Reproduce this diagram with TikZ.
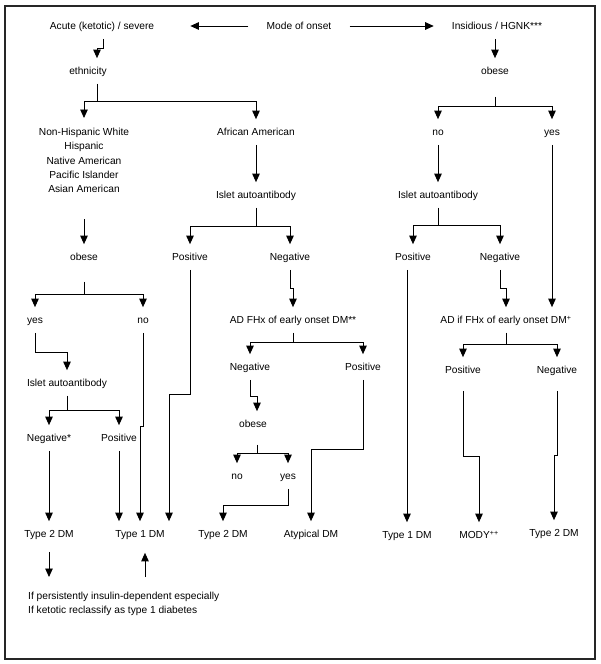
\documentclass[tikz,border=0pt]{standalone}
\usepackage{fontspec}
\setmainfont{Liberation Sans}
\usepackage{tikz}
\usetikzlibrary{arrows.meta}

\begin{document}
\begin{tikzpicture}[x=1pt,y=-1pt,
    lbl/.style={font=\fontsize{10.2}{14.3}\selectfont, text height=7.3pt, text depth=0pt, inner xsep=0pt, inner ysep=9pt},
    multi/.style={font=\fontsize{10.2}{14.3}\selectfont, inner xsep=0pt, inner ysep=10pt},
    arr/.style={-{Triangle[width=7.5pt,length=8.5pt]}, line width=0.9pt},
    frame/.style={line width=1.2pt, draw=black!85}]
    \useasboundingbox (0,0) rectangle (600,664);
    \draw[frame] (5,6) rectangle (595,659);
    %
    \node[lbl] (acute) at (102,26) {Acute (ketotic) / severe};
    \node[lbl] (mode)  at (299,26) {Mode of onset};
    \node[lbl] (insid) at (497,26) {Insidious / HGNK***};
    %
    \node[lbl] (eth) at (88,71) {ethnicity};
    \node[multi, anchor=north, align=center] (ethlist) at (84,118)
      {Non-Hispanic White\\Hispanic\\Native American\\Pacific Islander\\Asian American};
    \node[lbl] (afr) at (256,132) {African American};
    \node[lbl] (isA) at (256,195) {Islet autoantibody};
    \node[lbl] (posA) at (190,257) {Positive};
    \node[lbl] (negA) at (290,257) {Negative};
    %
    \node[lbl] (obL) at (84,257) {obese};
    \node[lbl] (yesL) at (35,320) {yes};
    \node[lbl] (noL) at (143,320) {no};
    \node[lbl] (isL) at (67,383) {Islet autoantibody};
    \node[lbl] (negL) at (49,438) {Negative*};
    \node[lbl] (posL) at (119,438) {Positive};
    \node[lbl] (t2L) at (49,534) {Type 2 DM};
    \node[lbl] (t1L) at (140,534) {Type 1 DM};
    %
    \node[lbl] (adA) at (293,320) {AD FHx of early onset DM**};
    \node[lbl] (negB) at (250,367) {Negative};
    \node[lbl] (posB) at (363,367) {Positive};
    \node[lbl] (obM) at (253,424) {obese};
    \node[lbl] (noM) at (237,476) {no};
    \node[lbl] (yesM) at (288,476) {yes};
    \node[lbl] (t2M) at (223,534) {Type 2 DM};
    \node[lbl] (aty) at (311,534) {Atypical DM};
    %
    \node[lbl] (obR) at (495,71) {obese};
    \node[lbl] (noR) at (438,132) {no};
    \node[lbl] (yesR) at (552,132) {yes};
    \node[lbl] (isR) at (438,195) {Islet autoantibody};
    \node[lbl] (posR) at (413,257) {Positive};
    \node[lbl] (negR) at (500,257) {Negative};
    \node[lbl] (adR) at (506,320) {AD if FHx of early onset DM\textsuperscript{+}};
    \node[lbl] (posC) at (463,370) {Positive};
    \node[lbl] (negC) at (557,370) {Negative};
    \node[lbl] (t1R) at (407,535) {Type 1 DM};
    \node[lbl] (mody) at (479,535) {MODY\textsuperscript{++}};
    \node[lbl] (t2R) at (554,533) {Type 2 DM};
    %
    \node[multi, anchor=north west, align=left, inner ysep=15pt] (note) at (28,577)
      {If persistently insulin-dependent especially\\If ketotic reclassify as type 1 diabetes};
    %
    \begin{scope}[every path/.style={arr}]
        \draw[shorten <=18pt, shorten >=36pt] (mode.west) -- (acute.east);
        \draw[shorten <=18pt, shorten >=18pt] (mode.east) -- (insid.west);
        %
        \draw ([xshift=1pt]acute.south) -- ++(0,10) -| ([xshift=9pt]eth.north);
        \draw ([xshift=9pt]eth.south) -- ++(0,18) -| (ethlist.north);
        \draw ([xshift=9pt]eth.south) -- ++(0,18) -| (afr.north);
        \draw (afr) -- (isA);
        \draw (isA.south) -- ++(0,19) -| (posA.north);
        \draw (isA.south) -- ++(0,19) -| (negA.north);
        %
        \draw[shorten <=16pt] (ethlist) -- (obL);
        \draw[shorten <=12pt] (obL.south) -- ++(0,25) -| (yesL.north);
        \draw[shorten <=12pt] (obL.south) -- ++(0,25) -| (noL.north);
        \draw (yesL.south) -- ++(0,20) -| (isL.north);
        \draw (isL.south) -- ++(0,15) -| (negL.north);
        \draw (isL.south) -- ++(0,15) -| (posL.north);
        \draw (negL) -- (t2L);
        \draw (posL) -- (posL |- t1L.north);
        \draw (noL.south) -- ++(0,94) -| (t1L.north);
        \draw (posA.south) -- ++(0,125) -| ([xshift=29pt]t1L.north);
        %
        \draw (negA.south) -- ++(0,19) -| (adA.north);
        \draw (adA.south) -- ++(0,10) -| (negB.north);
        \draw (adA.south) -- ++(0,10) -| (posB.north);
        \draw (negB.south) -- ++(0,17) -| ([xshift=4pt]obM.north);
        \draw[shorten <=8pt] ([xshift=4pt]obM.south) -- ++(0,17) -| (noM.north);
        \draw[shorten <=8pt] ([xshift=4pt]obM.south) -- ++(0,17) -| (yesM.north);
        \draw (yesM.south) -- ++(0,17) -| (t2M.north);
        \draw (posB.south) -- ++(0,70) -| (aty.north);
        %
        \draw (insid.south -| obR) -- (obR);
        \draw[shorten <=13pt] (obR.south) -- ++(0,23) -| (noR.north);
        \draw[shorten <=13pt] (obR.south) -- ++(0,23) -| (yesR.north);
        \draw (noR) -- (isR);
        \draw (yesR) -- (yesR |- adR.north);
        \draw (isR.south) -- ++(0,18) -| (posR.north);
        \draw (isR.south) -- ++(0,18) -| (negR.north);
        \draw ([xshift=-6pt]posR.south) -- (t1R.north);
        \draw (negR.south) -- ++(0,19) -| (adR.north);
        \draw (adR.south) -- ++(0,12) -| (posC.north);
        \draw (adR.south) -- ++(0,12) -| (negC.north);
        \draw[shorten <=8pt] (posC.south) -- ++(0,74) -| (mody.north);
        \draw[shorten <=8pt] (negC.south) -- ++(0,73) -| (t2R.north);
        %
        \draw[shorten <=5pt] (t2L.south) -- (t2L.south |- note.north);
        \draw[shorten >=6pt] ([xshift=5pt]t1L.south |- note.north) -- ([xshift=5pt]t1L.south);
    \end{scope}
\end{tikzpicture}
\end{document}
